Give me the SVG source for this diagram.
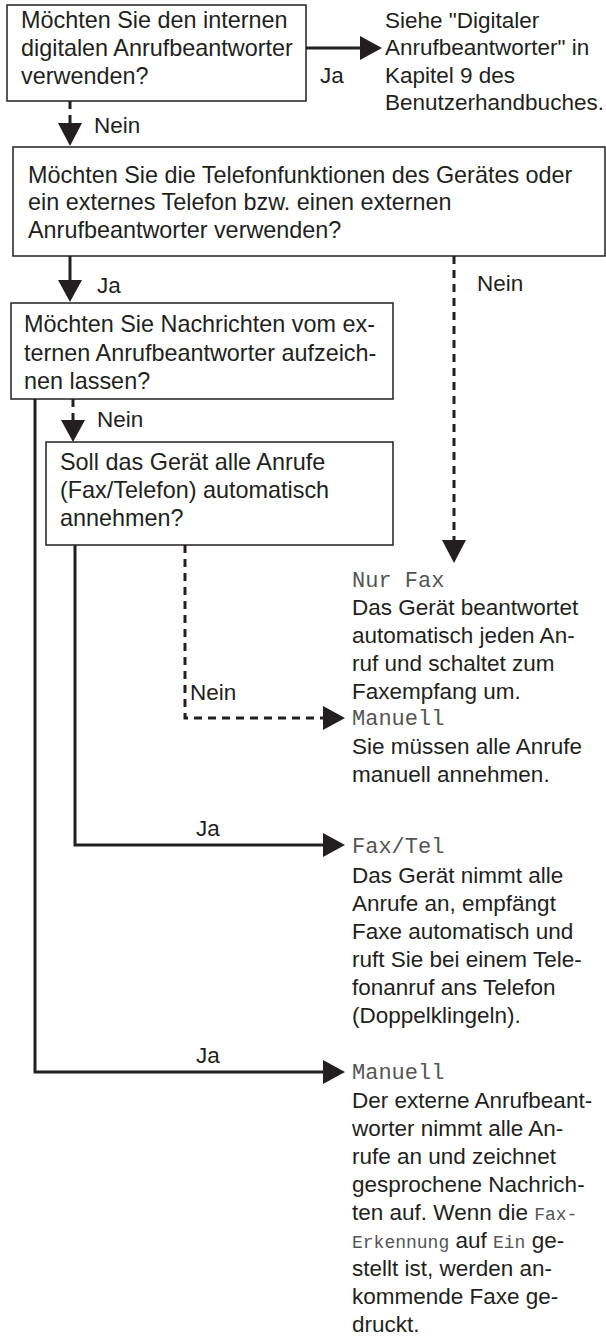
<svg xmlns="http://www.w3.org/2000/svg" width="606" height="1344" viewBox="0 0 606 1344">
<style>
.box{fill:#fff;stroke:#231f20;stroke-width:1.5}
.t{font-family:"Liberation Sans",Arial,sans-serif;font-size:22.5px;fill:#231f20}
.tb{font-family:"Liberation Sans",Arial,sans-serif;font-size:23.4px;fill:#231f20}
.lcd{font-family:"Liberation Mono","DejaVu Sans Mono",monospace;font-size:22px;fill:#555}
.lcds{font-family:"Liberation Mono","DejaVu Sans Mono",monospace;font-size:18px;fill:#555}
.ln{fill:none;stroke:#231f20;stroke-width:3}
.dash{fill:none;stroke:#231f20;stroke-width:3;stroke-dasharray:8 6}
.ah{fill:#231f20}
</style>
<rect width="606" height="1344" fill="#fff"/>
<g id="connectors">
<line class="ln" x1="306" y1="48" x2="362" y2="48"/>
<polygon class="ah" points="360,36 382,48 360,60"/>
<text class="t" x="320" y="83">Ja</text>
<line class="dash" x1="70" y1="101" x2="70" y2="124"/>
<polygon class="ah" points="58,123 82,123 70,146"/>
<text class="t" x="94" y="133">Nein</text>
<line class="ln" x1="70" y1="256" x2="70" y2="281"/>
<polygon class="ah" points="58,280 82,280 70,302"/>
<text class="t" x="97" y="293">Ja</text>
<line class="dash" x1="454" y1="256" x2="454" y2="541"/>
<polygon class="ah" points="442,540 466,540 454,563"/>
<text class="t" x="477" y="291">Nein</text>
<line class="dash" x1="73" y1="399" x2="73" y2="421"/>
<polygon class="ah" points="61,420 85,420 73,442"/>
<text class="t" x="97" y="427">Nein</text>
<polyline class="dash" points="185,545 185,718 324,718"/>
<polygon class="ah" points="323,706 345,718 323,730"/>
<text class="t" x="190" y="700">Nein</text>
<polyline class="ln" points="75,545 75,845 324,845"/>
<polygon class="ah" points="323,833 345,845 323,857"/>
<text class="t" x="196" y="836">Ja</text>
<polyline class="ln" points="35,399 35,1072 324,1072"/>
<polygon class="ah" points="323,1060 345,1072 323,1084"/>
<text class="t" x="196" y="1063">Ja</text>
</g>
<g id="q1">
<rect class="box" x="7" y="5" width="299" height="96"/>
<text class="tb" x="21" y="28">Möchten Sie den internen</text>
<text class="tb" x="21" y="56">digitalen Anrufbeantworter</text>
<text class="tb" x="21" y="84">verwenden?</text>
</g>
<g id="r-digital">
<text class="t" x="385" y="28">Siehe "Digitaler</text>
<text class="t" x="385" y="55">Anrufbeantworter" in</text>
<text class="t" x="385" y="83">Kapitel 9 des</text>
<text class="t" x="385" y="110">Benutzerhandbuches.</text>
</g>
<g id="q2">
<rect class="box" x="13" y="147" width="592" height="109"/>
<text class="tb" x="28" y="183">Möchten Sie die Telefonfunktionen des Gerätes oder</text>
<text class="tb" x="28" y="210">ein externes Telefon bzw. einen externen</text>
<text class="tb" x="28" y="238">Anrufbeantworter verwenden?</text>
</g>
<g id="q3">
<rect class="box" x="11" y="303" width="382" height="96"/>
<text class="tb" x="24" y="332">Möchten Sie Nachrichten vom ex-</text>
<text class="tb" x="24" y="361">ternen Anrufbeantworter aufzeich-</text>
<text class="tb" x="24" y="389">nen lassen?</text>
</g>
<g id="q4">
<rect class="box" x="46" y="442" width="347" height="103"/>
<text class="tb" x="60" y="470">Soll das Gerät alle Anrufe</text>
<text class="tb" x="60" y="498">(Fax/Telefon) automatisch</text>
<text class="tb" x="60" y="526">annehmen?</text>
</g>
<g id="r-nurfax">
<text class="lcd" x="352" y="587">Nur Fax</text>
<text class="t" x="352" y="615">Das Gerät beantwortet</text>
<text class="t" x="352" y="643">automatisch jeden An-</text>
<text class="t" x="352" y="671">ruf und schaltet zum</text>
<text class="t" x="352" y="699">Faxempfang um.</text>
</g>
<g id="r-manuell1">
<text class="lcd" x="352" y="725">Manuell</text>
<text class="t" x="352" y="754">Sie müssen alle Anrufe</text>
<text class="t" x="352" y="782">manuell annehmen.</text>
</g>
<g id="r-faxtel">
<text class="lcd" x="352" y="853">Fax/Tel</text>
<text class="t" x="352" y="883">Das Gerät nimmt alle</text>
<text class="t" x="352" y="911">Anrufe an, empfängt</text>
<text class="t" x="352" y="939">Faxe automatisch und</text>
<text class="t" x="352" y="967">ruft Sie bei einem Tele-</text>
<text class="t" x="352" y="995">fonanruf ans Telefon</text>
<text class="t" x="352" y="1023">(Doppelklingeln).</text>
</g>
<g id="r-manuell2">
<text class="lcd" x="352" y="1079">Manuell</text>
<text class="t" x="352" y="1108">Der externe Anrufbeant-</text>
<text class="t" x="352" y="1136">worter nimmt alle An-</text>
<text class="t" x="352" y="1164">rufe an und zeichnet</text>
<text class="t" x="352" y="1192">gesprochene Nachrich-</text>
<text class="t" x="352" y="1220">ten auf. Wenn die <tspan class="lcds">Fax-</tspan></text>
<text class="t" x="352" y="1248"><tspan class="lcds">Erkennung</tspan> auf <tspan class="lcds">Ein</tspan> ge-</text>
<text class="t" x="352" y="1276">stellt ist, werden an-</text>
<text class="t" x="352" y="1304">kommende Faxe ge-</text>
<text class="t" x="352" y="1332">druckt.</text>
</g>
</svg>
